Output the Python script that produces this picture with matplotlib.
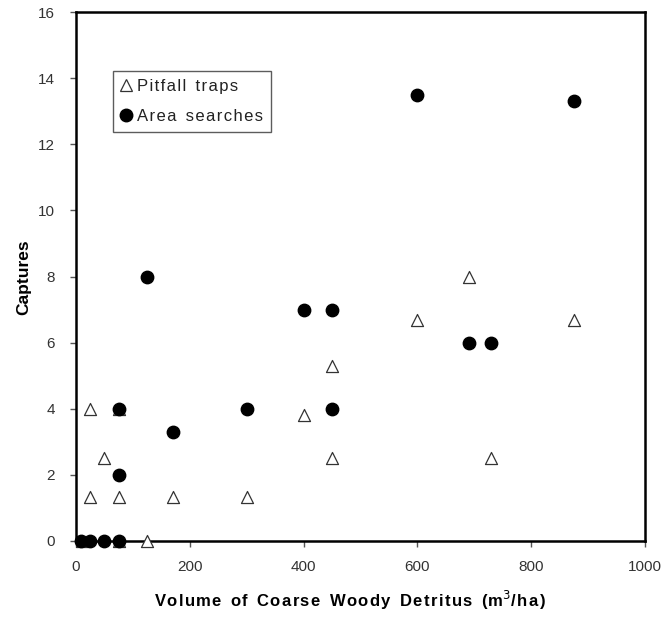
import matplotlib
matplotlib.use("Agg")
import matplotlib.pyplot as plt
from matplotlib.lines import Line2D

# Data
pitfall_x = [10, 25, 75, 50, 25, 75, 170, 300, 400, 450, 450, 600, 690, 730, 875, 125, 75]
pitfall_y = [0, 4, 4, 2.5, 1.33, 1.33, 1.33, 1.33, 3.8, 5.3, 2.5, 6.67, 8, 2.5, 6.67, 0, 0]
area_x = [8, 25, 50, 75, 75, 75, 125, 170, 300, 400, 450, 450, 600, 690, 730, 875]
area_y = [0, 0, 0, 0, 4, 2, 8, 3.3, 4, 7, 7, 4, 13.5, 6, 6, 13.3]
x_ticks = [0, 200, 400, 600, 800, 1000]
y_ticks = [0, 2, 4, 6, 8, 10, 12, 14, 16]

plt.rcParams['font.family'] = ['Liberation Sans', 'DejaVu Sans']

HS = '\u200a'


def spaced(s):
    return HS.join(s)


fig = plt.figure(figsize=(6.62, 6.18), dpi=100)
W, H = 662, 618
left, right, top, bottom = 76, 645, 12, 541
ax = fig.add_axes([left / W, (H - bottom) / H, (right - left) / W, (bottom - top) / H])

ax.scatter(pitfall_x, pitfall_y, marker='^', s=75, facecolors='white',
           edgecolors='#333333', linewidths=0.9, zorder=3, clip_on=False)
ax.scatter(area_x, area_y, marker='o', s=80, color='black', zorder=4, clip_on=False)

ax.set_xlim(0, 1000)
ax.set_ylim(0, 16)
ax.set_xticks(x_ticks)
ax.set_yticks(y_ticks)
ax.set_xticklabels([str(v) for v in x_ticks])
ax.set_yticklabels([str(v) for v in y_ticks])
for s in ax.spines.values():
    s.set_linewidth(1.8)
    s.set_color('black')
ax.tick_params(direction='out', length=4, width=1, color='#555555',
               labelsize=11, labelcolor='#333333')
ax.tick_params(axis='y', pad=11)
ax.tick_params(axis='x', pad=10)

ax.set_xlabel(spaced('Volume') + '  ' + spaced('of') + '  ' + spaced('Coarse') + '  ' +
              spaced('Woody') + '  ' + spaced('Detritus') + '  ' + spaced('(m') + '$^{3}$' + spaced('/ha)'),
              fontsize=12, fontweight='bold')
ax.xaxis.set_label_coords((350 - left) / (right - left), -(600 - bottom) / (bottom - top))
ax.set_ylabel('Captures', fontsize=12.5, fontweight='bold')
ax.yaxis.set_label_coords(-(left - 24) / (right - left), (bottom - 277) / (bottom - top))
ax.xaxis.label.set_verticalalignment('center')
ax.yaxis.label.set_verticalalignment('center')

handles = [
    Line2D([], [], marker='^', linestyle='none', markersize=8, markerfacecolor='white',
           markeredgecolor='#333333', markeredgewidth=0.9, label=spaced('Pitfall') + '  ' + spaced('traps')),
    Line2D([], [], marker='o', linestyle='none', markersize=9, color='black',
           label=spaced('Area') + '  ' + spaced('searches')),
]
leg = ax.legend(handles=handles, loc='upper left',
                bbox_to_anchor=((113 - left) / (right - left), (bottom - 71) / (bottom - top)),
                frameon=True, fancybox=False, edgecolor='#333333', fontsize=12,
                handlelength=0.7, handletextpad=0.3, borderpad=0.45, labelspacing=0.95,
                borderaxespad=0)
leg.get_frame().set_linewidth(1.0)
for t in leg.get_texts():
    t.set_color('#222222')

fig.savefig('out.png', dpi=100, facecolor='white')
